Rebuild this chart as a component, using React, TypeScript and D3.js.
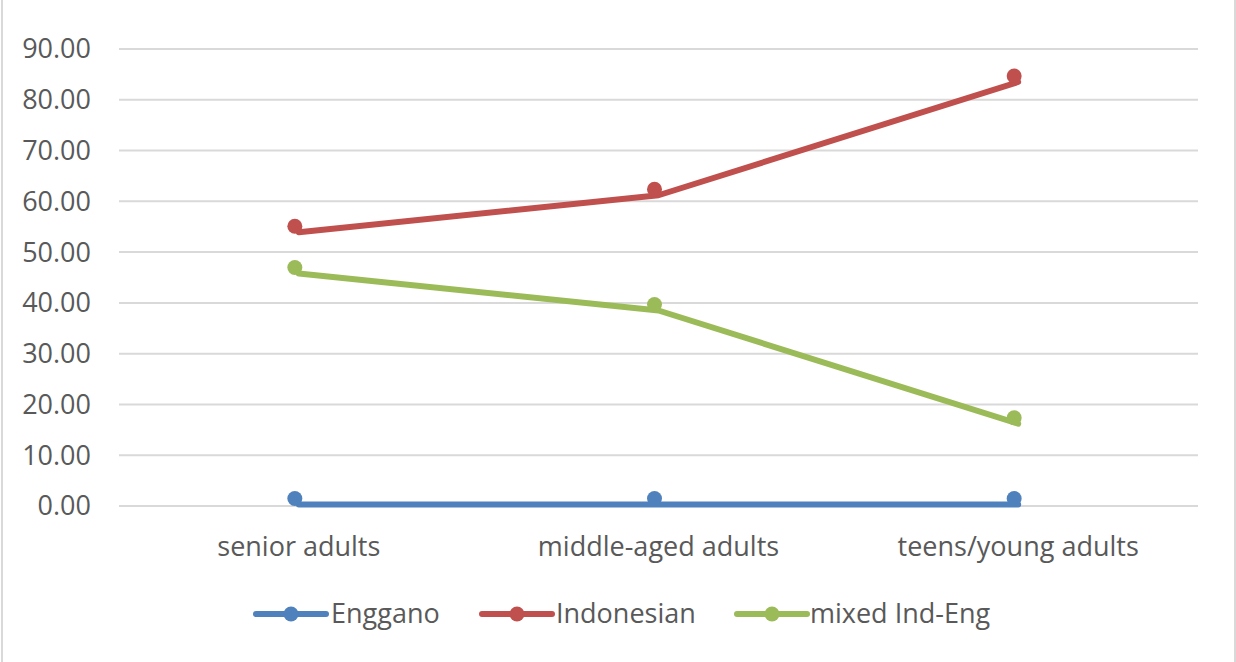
import React from "react";
import * as d3 from "d3";

const categories = ["senior adults", "middle-aged adults", "teens/young adults"];
const enggano = [0.3, 0.3, 0.3];
const indonesian = [53.9, 61.2, 83.5];
const mixed = [45.8, 38.5, 16.2];
const yTicks = [0, 10, 20, 30, 40, 50, 60, 70, 80, 90];

const seriesList = [
  { name: "Enggano", values: enggano, color: "#4F81BD" },
  { name: "Indonesian", values: indonesian, color: "#C0504D" },
  { name: "mixed Ind-Eng", values: mixed, color: "#9BBB59" },
];

const W = 1236;
const H = 662;
const plot = { left: 119, right: 1198, top: 49, bottom: 506 };
const font = "'Open Sans', sans-serif";
const textColor = "#595959";

export default function App() {
  const x = d3
    .scaleBand<string>()
    .domain(categories)
    .range([plot.left, plot.right]);
  const y = d3.scaleLinear().domain([0, 90]).range([plot.bottom, plot.top]);
  const cx = (c: string) => (x(c) ?? 0) + x.bandwidth() / 2;

  const line = d3
    .line<number>()
    .x((_, i) => cx(categories[i]))
    .y((v) => y(v));

  const legendItems = [
    { lx: 256, tx: 331 },
    { lx: 482, tx: 556 },
    { lx: 737, tx: 810 },
  ];
  const legendY = 614;

  return (
    <svg
      width={W}
      height={H}
      style={{ position: "absolute", left: 0, top: 0, background: "#fff" }}
      fontFamily={font}
    >
      <rect x={2} y={-4} width={1233} height={H + 8} fill="#fff" stroke="#D9D9D9" strokeWidth={2} />
      {yTicks.map((t) => (
        <g key={t}>
          <line x1={plot.left} x2={plot.right} y1={y(t)} y2={y(t)} stroke="#D9D9D9" strokeWidth={2} />
          <text x={91} y={y(t)} dy="0.35em" textAnchor="end" fontSize={27} fill={textColor}>
            {t.toFixed(2)}
          </text>
        </g>
      ))}
      {categories.map((c) => (
        <text key={c} x={cx(c)} y={556} textAnchor="middle" fontSize={27} fill={textColor}>
          {c}
        </text>
      ))}
      {seriesList.map((s) => (
        <g key={s.name}>
          <path d={line(s.values) ?? ""} fill="none" stroke={s.color} strokeWidth={6} strokeLinejoin="round" strokeLinecap="round" />
          <g transform="translate(-4,-6)">
            {s.values.map((v, i) => (
              <circle key={i} cx={cx(categories[i])} cy={y(v)} r={7.5} fill={s.color} />
            ))}
          </g>
        </g>
      ))}
      {seriesList.map((s, i) => (
        <g key={s.name}>
          <line x1={legendItems[i].lx} x2={legendItems[i].lx + 70} y1={legendY} y2={legendY} stroke={s.color} strokeWidth={6} strokeLinecap="round" />
          <circle cx={legendItems[i].lx + 35} cy={legendY} r={7.5} fill={s.color} />
          <text x={legendItems[i].tx} y={legendY} dy="0.35em" fontSize={27} fill={textColor}>
            {s.name}
          </text>
        </g>
      ))}
    </svg>
  );
}
